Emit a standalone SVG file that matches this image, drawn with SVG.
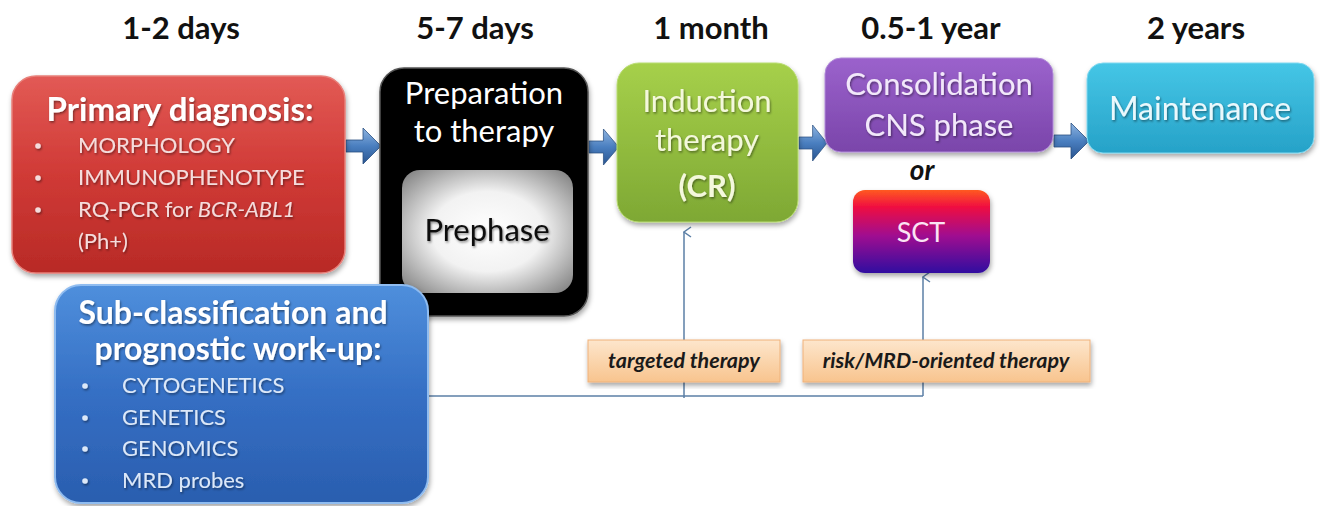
<svg xmlns="http://www.w3.org/2000/svg" width="1320" height="506" viewBox="0 0 1320 506">
<defs>
<style>
.hdr{font-family:Lato,"Open Sans","Liberation Sans",sans-serif;font-weight:bold;font-size:31px;fill:#111;text-anchor:middle}
.t{font-family:Lato,"Open Sans","Liberation Sans",sans-serif;text-anchor:middle}
.b{font-family:Lato,"Open Sans","Liberation Sans",sans-serif;font-size:22px}
.lbl{font-family:Lato,"Open Sans","Liberation Sans",sans-serif;font-size:21.5px;font-weight:bold;font-style:italic;fill:#1a1a1a;text-anchor:middle}
.conn{stroke:#5b7fa6;stroke-width:1.5;fill:none}
</style>
<linearGradient id="gRed" x1="0" y1="0" x2="0" y2="1"><stop offset="0" stop-color="#e25a55"/><stop offset="0.5" stop-color="#d03a36"/><stop offset="1" stop-color="#b82a26"/></linearGradient>
<linearGradient id="gBlue" x1="0" y1="0" x2="0" y2="1"><stop offset="0" stop-color="#4f8fdc"/><stop offset="0.5" stop-color="#356fc4"/><stop offset="1" stop-color="#2a5eaf"/></linearGradient>
<linearGradient id="gGreen" x1="0" y1="0" x2="0" y2="1"><stop offset="0" stop-color="#a6d04a"/><stop offset="1" stop-color="#7ea834"/></linearGradient>
<linearGradient id="gPurple" x1="0" y1="0" x2="0" y2="1"><stop offset="0" stop-color="#9b62cc"/><stop offset="1" stop-color="#7a45aa"/></linearGradient>
<linearGradient id="gCyan" x1="0" y1="0" x2="0" y2="1"><stop offset="0" stop-color="#45c6e6"/><stop offset="1" stop-color="#26a2c8"/></linearGradient>
<linearGradient id="gSCT" x1="0" y1="0" x2="0" y2="1"><stop offset="0" stop-color="#ff5a20"/><stop offset="0.2" stop-color="#f01040"/><stop offset="0.55" stop-color="#a01090"/><stop offset="1" stop-color="#3010a0"/></linearGradient>
<linearGradient id="gOrange" x1="0" y1="0" x2="0" y2="1"><stop offset="0" stop-color="#fde6cc"/><stop offset="1" stop-color="#f8c48e"/></linearGradient>
<linearGradient id="gArrow" x1="0" y1="0" x2="0" y2="1"><stop offset="0" stop-color="#8fb4e0"/><stop offset="0.5" stop-color="#4a7fc0"/><stop offset="1" stop-color="#2a5590"/></linearGradient>
<radialGradient id="gPre" cx="0.5" cy="0.5" r="0.65"><stop offset="0" stop-color="#ffffff"/><stop offset="0.5" stop-color="#f2f2f2"/><stop offset="1" stop-color="#8a8a8a"/></radialGradient>
<filter id="sh" x="-10%" y="-10%" width="120%" height="125%"><feDropShadow dx="1" dy="3" stdDeviation="2.5" flood-color="#000" flood-opacity="0.35"/></filter>
<filter id="tsh" x="-5%" y="-20%" width="110%" height="150%"><feDropShadow dx="1" dy="1.5" stdDeviation="1" flood-color="#000" flood-opacity="0.45"/></filter>
<marker id="open" viewBox="0 0 12 12" refX="6" refY="1" markerWidth="12" markerHeight="12" markerUnits="userSpaceOnUse" orient="auto-start-reverse"><path d="M1,8 L6,1 L11,8" fill="none" stroke="#5b7fa6" stroke-width="1.5"/></marker>
<path id="arr" d="M0,-6 L17,-6 L17,-18 L35,0 L17,18 L17,6 L0,6 Z"/>
</defs>
<rect width="1320" height="506" fill="#ffffff"/>

<g id="headers">
<text class="hdr" x="181" y="39">1-2 days</text>
<text class="hdr" x="475" y="39">5-7 days</text>
<text class="hdr" x="711" y="39">1 month</text>
<text class="hdr" x="931" y="39">0.5-1 year</text>
<text class="hdr" x="1196" y="39">2 years</text>
</g>

<g id="connectors">
<path class="conn" d="M428,396 L923,396"/>
<path class="conn" d="M684,398 L684,232" marker-end="url(#open)"/>
<path class="conn" d="M923,396 L923,277" marker-end="url(#open)"/>
<use href="#arr" x="346" y="146" fill="url(#gArrow)" stroke="#2a4f80" stroke-width="0.8"/>
<g transform="translate(589,147) scale(0.85,1)"><use href="#arr" fill="url(#gArrow)" stroke="#2a4f80" stroke-width="0.8"/></g>
<g transform="translate(799,143) scale(0.8,1)"><use href="#arr" fill="url(#gArrow)" stroke="#2a4f80" stroke-width="0.8"/></g>
<use href="#arr" x="1054" y="141" fill="url(#gArrow)" stroke="#2a4f80" stroke-width="0.8"/>
</g>

<g id="primary-diagnosis">
<rect x="12" y="76" width="333" height="197" rx="24" fill="url(#gRed)" stroke="#e8807a" stroke-width="1.5" filter="url(#sh)"/>
<text class="t" x="180" y="121" font-size="33" font-weight="bold" fill="#fff" filter="url(#tsh)">Primary diagnosis:</text>
<g class="b" fill="#f4dcdc" filter="url(#tsh)">
<circle cx="38" cy="146" r="2.8"/><text x="78" y="153">MORPHOLOGY</text>
<circle cx="38" cy="178" r="2.8"/><text x="78" y="185">IMMUNOPHENOTYPE</text>
<circle cx="38" cy="210" r="2.8"/><text x="78" y="217">RQ-PCR for <tspan font-style="italic">BCR-ABL1</tspan></text>
<text x="78" y="249">(Ph+)</text>
</g>
</g>

<g id="preparation">
<rect x="380" y="68" width="208" height="248" rx="24" fill="#000" stroke="#555" stroke-width="1.5" filter="url(#sh)"/>
<text class="t" x="484" y="104" font-size="31" fill="#fff">Preparation</text>
<text class="t" x="484" y="142" font-size="31" fill="#fff">to therapy</text>
</g>

<g id="prephase">
<rect x="402" y="170" width="171" height="123" rx="18" fill="url(#gPre)"/>
<text class="t" x="487" y="241" font-size="31" fill="#111" filter="url(#tsh)">Prephase</text>
</g>

<g id="sub-classification">
<rect x="55" y="285" width="373" height="218" rx="26" fill="url(#gBlue)" stroke="#8fbcf0" stroke-width="2" filter="url(#sh)"/>
<text class="t" x="233" y="324" font-size="32" font-weight="bold" fill="#fff" filter="url(#tsh)">Sub-classification and</text>
<text class="t" x="238" y="360" font-size="32" font-weight="bold" fill="#fff" filter="url(#tsh)">prognostic work-up:</text>
<g class="b" fill="#dce8f8" filter="url(#tsh)">
<circle cx="85" cy="386" r="2.8"/><text x="122" y="393">CYTOGENETICS</text>
<circle cx="85" cy="418" r="2.8"/><text x="122" y="425">GENETICS</text>
<circle cx="85" cy="449" r="2.8"/><text x="122" y="456">GENOMICS</text>
<circle cx="85" cy="481" r="2.8"/><text x="122" y="488">MRD probes</text>
</g>
</g>

<g id="induction">
<rect x="617" y="63" width="181" height="159" rx="22" fill="url(#gGreen)" stroke="#b8dc70" stroke-width="1" filter="url(#sh)"/>
<text class="t" x="707" y="112" font-size="31" fill="#f4f8dc" filter="url(#tsh)">Induction</text>
<text class="t" x="707" y="151" font-size="31" fill="#f4f8dc" filter="url(#tsh)">therapy</text>
<text class="t" x="707" y="197" font-size="31" font-weight="bold" fill="#f4f8dc" filter="url(#tsh)">(CR)</text>
</g>

<g id="consolidation">
<rect x="825" y="58" width="228" height="94" rx="16" fill="url(#gPurple)" stroke="#b08ad8" stroke-width="1" filter="url(#sh)"/>
<text class="t" x="939" y="95" font-size="31" fill="#f2e8fa" filter="url(#tsh)">Consolidation</text>
<text class="t" x="939" y="136" font-size="31" fill="#f2e8fa" filter="url(#tsh)">CNS phase</text>
</g>

<g id="or-label">
<text class="t" x="922" y="180" font-size="28" font-weight="bold" font-style="italic" fill="#111">or</text>
</g>

<g id="sct">
<rect x="853" y="190" width="137" height="83" rx="12" fill="url(#gSCT)" filter="url(#sh)"/>
<text class="t" x="921" y="242" font-size="27" fill="#fbe4f4">SCT</text>
</g>

<g id="maintenance">
<rect x="1087" y="63" width="227" height="90" rx="16" fill="url(#gCyan)" stroke="#80d8f0" stroke-width="1" filter="url(#sh)"/>
<text class="t" x="1200" y="120" font-size="32" fill="#eaf8fc" filter="url(#tsh)">Maintenance</text>
</g>

<g id="targeted-therapy">
<rect x="588" y="340" width="192" height="42" fill="url(#gOrange)" stroke="#efb27a" stroke-width="1" filter="url(#sh)"/>
<text class="lbl" x="684" y="368">targeted therapy</text>
</g>

<g id="risk-therapy">
<rect x="803" y="340" width="287" height="42" fill="url(#gOrange)" stroke="#efb27a" stroke-width="1" filter="url(#sh)"/>
<text class="lbl" x="946" y="368">risk/MRD-oriented therapy</text>
</g>
</svg>
